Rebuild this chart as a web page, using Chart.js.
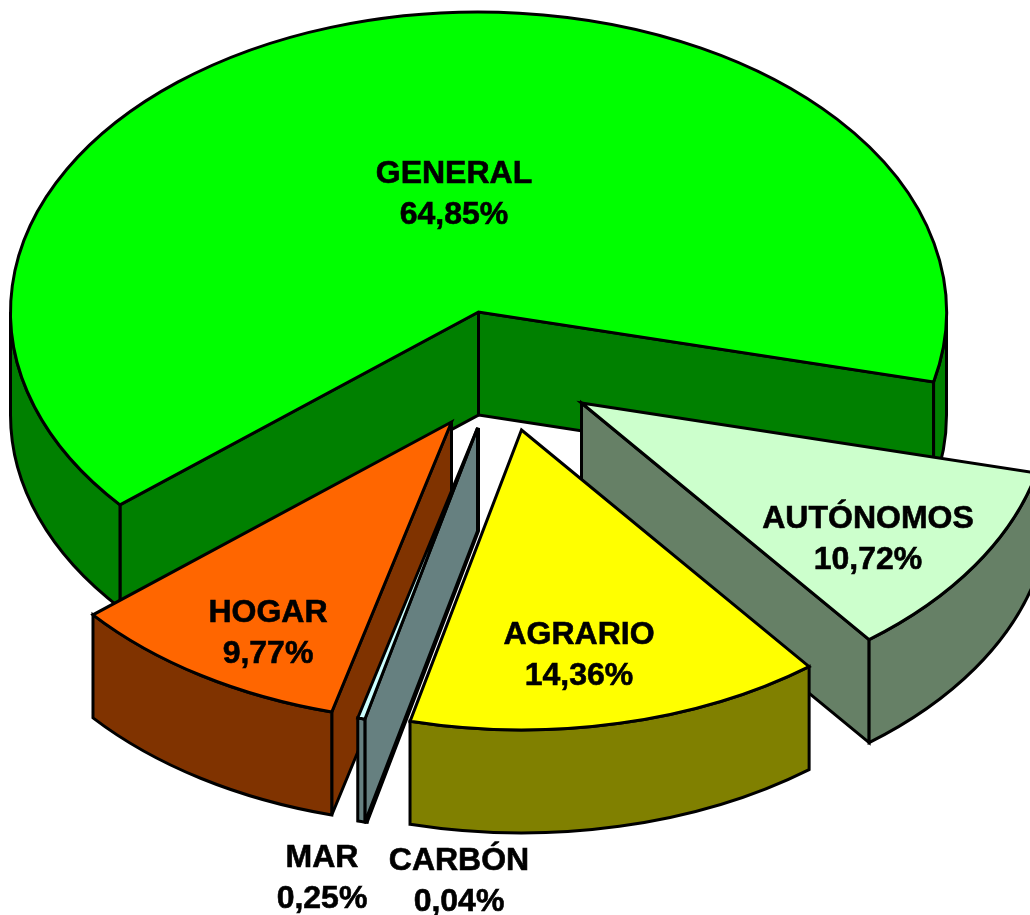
<!DOCTYPE html>
<html>
<head>
<meta charset="utf-8">
<title>Reparto por regimen</title>
<style>
html, body { margin: 0; padding: 0; background: #fff; }
canvas { display: block; }
</style>
<script src="https://cdn.jsdelivr.net/npm/chart.js@4"></script>
</head>
<body>
<canvas id="myChart" width="1030" height="915"></canvas>
<script>
var categories = ["GENERAL", "AUTÓNOMOS", "AGRARIO", "CARBÓN", "MAR", "HOGAR"];
var shares = [64.85, 10.72, 14.36, 0.04, 0.25, 9.77];

var topColors = ["#00FF00", "#CCFFCC", "#FFFF00", "#CCFFFF", "#CCFFFF", "#FF6600"];
var wallColors = ["#008000", "#668066", "#808000", "#668080", "#668080", "#803300"];

// pie look: tilt, thickness, how far each slice was pulled out (pixels on screen)
var tilt = 0.641;
var depth = 103;
var shiftX = [0, 103, 43, 0, -1, -27];
var shiftY = [0, 91, 118, 116, 116, 110];
var drawOrder = [0, 1, 5, 2, 3, 4];

// label centre x and first baseline y
var labelX = [454, 868, 579, 459, 322, 268];
var labelY = [183, 528, 644, 870, 867, 622];
var lineGap = 41;

function wallArc(ctx, cx, cy, r, a, b, color) {
	ctx.beginPath();
	ctx.ellipse(cx, cy, r, r * tilt, 0, a, b);
	ctx.ellipse(cx, cy + depth, r, r * tilt, 0, b, a, true);
	ctx.closePath();
	ctx.fillStyle = color;
	ctx.fill();
	ctx.stroke();
}

function wallSide(ctx, cx, cy, r, a, color) {
	var ex = cx + r * Math.cos(a);
	var ey = cy + r * Math.sin(a) * tilt;
	ctx.beginPath();
	ctx.moveTo(cx, cy);
	ctx.lineTo(ex, ey);
	ctx.lineTo(ex, ey + depth);
	ctx.lineTo(cx, cy + depth);
	ctx.closePath();
	ctx.fillStyle = color;
	ctx.fill();
	ctx.stroke();
}

var pie3d = {
	id : 'pie3d',
	beforeDatasetDraw : function(chart) {
		var ctx = chart.ctx;
		var arcs = chart.getDatasetMeta(0).data;
		ctx.lineWidth = 3;
		ctx.lineJoin = 'miter';
		ctx.miterLimit = 4;
		ctx.strokeStyle = '#000';

		drawOrder.forEach(function(i) {
			var arc = arcs[i];
			var s = arc.startAngle, e = arc.endAngle, r = arc.outerRadius;
			var cx = arc.x + shiftX[i], cy = arc.y + shiftY[i];

			// a cut face shows only when it looks towards the viewer
			if (Math.cos(s) < 0) {
				wallSide(ctx, cx, cy, r, s, wallColors[i]);
			}
			if (Math.cos(e) > 0) {
				wallSide(ctx, cx, cy, r, e, wallColors[i]);
			}

			// only the front half of the rim can be seen
			for (var k = 0; k < 2; k++) {
				var a = Math.max(s, k * 2 * Math.PI);
				var b = Math.min(e, k * 2 * Math.PI + Math.PI);
				if (b > a) {
					wallArc(ctx, cx, cy, r, a, b, wallColors[i]);
				}
			}

			// top face is the library's own arc, squashed
			ctx.save();
			ctx.translate(cx, cy);
			ctx.scale(1, tilt);
			ctx.translate(-arc.x, -arc.y);
			arc.draw(ctx);
			ctx.restore();

			ctx.beginPath();
			ctx.moveTo(cx, cy);
			ctx.ellipse(cx, cy, r, r * tilt, 0, s, e);
			ctx.closePath();
			ctx.stroke();
		});
		return false;
	},
	afterDatasetsDraw : function(chart) {
		var ctx = chart.ctx;
		ctx.fillStyle = '#000';
		ctx.strokeStyle = '#000';
		ctx.lineWidth = 0.6;
		ctx.textAlign = 'center';
		ctx.textBaseline = 'alphabetic';
		ctx.font = 'bold 32px "Liberation Sans", Arial, sans-serif';
		categories.forEach(function(name, i) {
			var pct = shares[i].toFixed(2).replace('.', ',') + '%';
			ctx.fillText(name, labelX[i], labelY[i]);
			ctx.strokeText(name, labelX[i], labelY[i]);
			ctx.fillText(pct, labelX[i], labelY[i] + lineGap);
			ctx.strokeText(pct, labelX[i], labelY[i] + lineGap);
		});
	}
};

var ctxD = document.getElementById("myChart").getContext('2d');
var myPieChart = new Chart(ctxD, {
	type : 'pie',
	data : {
		labels : categories,
		datasets : [ {
			data : shares,
			backgroundColor : topColors,
			borderWidth : 0,
			radius : 468,
			rotation : 230
		} ]
	},
	options : {
		responsive : false,
		animation : false,
		layout : {
			padding : { right : 73, bottom : 291 }
		},
		plugins : {
			legend : { display : false },
			tooltip : { enabled : false }
		}
	},
	plugins : [ pie3d ]
});
</script>
</body>
</html>
